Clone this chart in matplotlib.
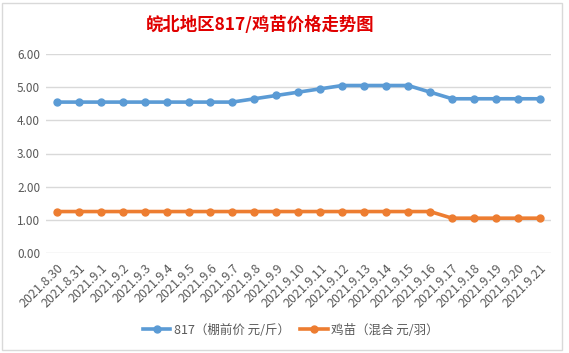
import numpy as np
import matplotlib.pyplot as plt
from matplotlib.patches import Rectangle

plt.rcParams['font.family'] = ['Noto Sans CJK SC', 'DejaVu Sans']

# 数据
dates = ['2021.8.30', '2021.8.31', '2021.9.1', '2021.9.2', '2021.9.3', '2021.9.4',
         '2021.9.5', '2021.9.6', '2021.9.7', '2021.9.8', '2021.9.9', '2021.9.10',
         '2021.9.11', '2021.9.12', '2021.9.13', '2021.9.14', '2021.9.15', '2021.9.16',
         '2021.9.17', '2021.9.18', '2021.9.19', '2021.9.20', '2021.9.21']
price_817 = [4.55, 4.55, 4.55, 4.55, 4.55, 4.55, 4.55, 4.55, 4.55, 4.65, 4.75, 4.85,
             4.95, 5.05, 5.05, 5.05, 5.05, 4.85, 4.65, 4.65, 4.65, 4.65, 4.65]
price_chick = [1.25, 1.25, 1.25, 1.25, 1.25, 1.25, 1.25, 1.25, 1.25, 1.25, 1.25, 1.25,
               1.25, 1.25, 1.25, 1.25, 1.25, 1.25, 1.05, 1.05, 1.05, 1.05, 1.05]
yticks = [0, 1, 2, 3, 4, 5, 6]
label_817 = '817（棚前价 元/斤）'
label_chick = '鸡苗（混合 元/羽）'

W, H = 569, 353
fig = plt.figure(figsize=(W / 100, H / 100), dpi=100)
ax = fig.add_axes([45.7 / W, 1 - 253 / H, (551 - 45.7) / W, (253 - 54) / H])

x = np.arange(len(dates))
ax.plot(x, price_817, color='#5b9bd5', lw=2.6, marker='o', ms=5, label=label_817)
ax.plot(x, price_chick, color='#ed7d31', lw=2.6, marker='o', ms=5, label=label_chick)

ax.set_xlim(-0.5, len(dates) - 0.5)
ax.set_ylim(0, 6)
ax.set_yticks(yticks)
ax.set_yticklabels(['%.2f' % v for v in yticks], color='#595959', fontsize=8.5)
ax.set_xticks(x)
ax.set_xticklabels(dates, rotation=45, ha='right', rotation_mode='anchor',
                   color='#595959', fontsize=9)
ax.tick_params(length=0, pad=4)
ax.tick_params(axis='x', pad=6)
ax.grid(axis='y', color='#d9d9d9', lw=1)
ax.set_axisbelow(True)
for s in ax.spines.values():
    s.set_visible(False)

fig.text(260 / W, 1 - 25 / H, '皖北地区817/鸡苗价格走势图', color='#e00000',
         fontsize=12.5, fontweight='bold', ha='center', va='center')

fig.legend(loc='center', bbox_to_anchor=(291 / W, 1 - 330 / H), ncol=2, frameon=False,
           fontsize=9, labelcolor='#595959', handlelength=2.2, handletextpad=0.3,
           columnspacing=0.8)

fig.patches.append(Rectangle((2 / W, 3 / H), 560 / W, 347 / H, transform=fig.transFigure,
                             fill=False, edgecolor='#d9d9d9', lw=1))

fig.savefig('out.png', dpi=100)
